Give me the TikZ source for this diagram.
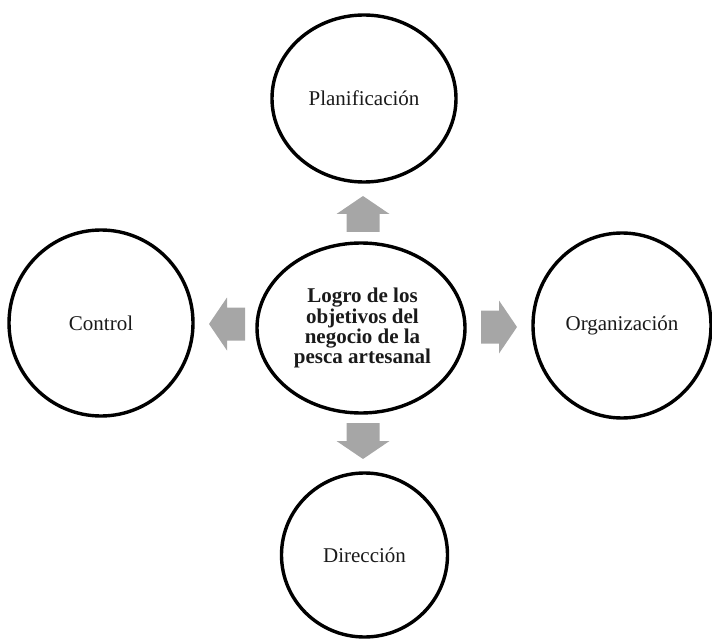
\documentclass[tikz,border=0pt]{standalone}
\usepackage{fontspec}
\setmainfont{Liberation Serif}
\usetikzlibrary{shapes.geometric}
\definecolor{arrowgray}{HTML}{A6A6A6}
\definecolor{inkgray}{HTML}{1A1A1A}
\tikzset{
  bubble/.style={ellipse, draw=black, line width=3.4pt, inner sep=0pt,
    text=inkgray, font=\fontsize{21}{21}\selectfont, align=center},
  pics/blockarrow/.style={code={
    \fill[arrowgray] (0,0) -- (-18,26.5) -- (-18,16.5) -- (-36,16.5)
      -- (-36,-16.5) -- (-18,-16.5) -- (-18,-26.5) -- cycle;}}
}
\begin{document}
\begin{tikzpicture}[x=1pt,y=-1pt]
  \useasboundingbox (0,0) rectangle (712,639);
  % central goal and the four management functions
  \node[bubble, minimum width=208pt, minimum height=170pt,
        font=\fontsize{21}{19}\selectfont\bfseries] (goal) at (361,328)
        {\hspace*{3pt}Logro de los\\\hspace*{3pt}objetivos del\\\hspace*{3pt}negocio de la\\\hspace*{3pt}pesca artesanal};
  \node[bubble, minimum width=184pt, minimum height=167pt] (plan) at (364,98.5) {Planificación};
  \node[bubble, minimum width=184pt, minimum height=186pt] (ctrl) at (101,323) {Control};
  \node[bubble, minimum width=178pt, minimum height=185pt] (org) at (622,325.5) {Organización};
  \node[bubble, minimum width=166pt, minimum height=164pt] (dir) at (364.5,555) {Dirección};
  % block arrows pointing out from the centre
  \coordinate (tipup) at (363,196);
  \coordinate (tipleft) at (209,324);
  \coordinate (tipright) at (517,327);
  \coordinate (tipdown) at (363,459);
  \pic[rotate=90] at (tipup) {blockarrow};
  \pic[rotate=180] at (tipleft) {blockarrow};
  \pic at (tipright) {blockarrow};
  \pic[rotate=270] at (tipdown) {blockarrow};
\end{tikzpicture}
\end{document}
